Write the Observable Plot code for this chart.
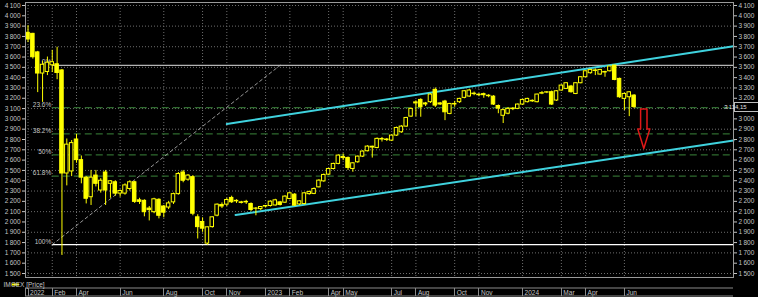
<!DOCTYPE html>
<html><head><meta charset="utf-8">
<script src="https://cdn.jsdelivr.net/npm/d3@7"></script>
<script src="https://cdn.jsdelivr.net/npm/@observablehq/plot@0.6"></script>
<style>html,body{margin:0;padding:0;background:#000;overflow:hidden}</style>
</head><body><div id="chart"></div>
<script>
// Weekly IMOEX candles, index = trading week (Jan 2022 .. Jun 2024)
const opens  = [3835,3825,3645,3440,3455,3520,3530,3470,2470,2490,2800,2600,2430,2240,2450,2305,2480,2370,2385,2275,2275,2320,2385,2210,2205,2130,2095,2215,2150,2140,2190,2270,2480,2410,2435,2045,2000,1790,1950,2061,2165,2168,2233,2200,2190,2195,2174,2128,2125,2150,2155,2160,2190,2187,2223,2265,2170,2174,2270,2272,2336,2394,2459,2514,2563,2620,2621,2514,2579,2634,2686,2730,2718,2800,2795,2789,2838,2870,2925,3022,3150,3184,3140,3162,3281,3140,3168,3048,3140,3162,3204,3217,3245,3230,3240,3225,3216,3125,3030,3050,3095,3097,3139,3162,3175,3162,3245,3255,3259,3178,3275,3291,3314,3242,3346,3404,3443,3465,3430,3455,3462,3517,3388,3194,3210,3226];
const highs  = [3905,3830,3655,3560,3600,3665,3695,3480,2805,2790,2850,2640,2440,2500,2500,2420,2500,2400,2400,2310,2370,2400,2395,2230,2215,2150,2230,2225,2160,2200,2280,2480,2500,2460,2450,2070,2040,1950,2050,2175,2185,2230,2250,2215,2200,2210,2185,2140,2150,2160,2205,2220,2200,2255,2285,2275,2205,2285,2300,2330,2410,2465,2520,2570,2650,2660,2630,2575,2640,2690,2740,2735,2815,2820,2810,2845,2920,2935,3015,3105,3175,3195,3160,3245,3300,3160,3180,3150,3170,3200,3275,3285,3260,3245,3250,3235,3225,3135,3095,3110,3110,3145,3190,3200,3185,3240,3265,3265,3270,3275,3330,3350,3325,3350,3410,3465,3480,3485,3480,3462,3510,3520,3395,3250,3265,3235];
const lows   = [3740,3580,3255,3160,3420,3450,3380,1675,2350,2440,2570,2370,2175,2160,2340,2280,2160,2230,2250,2240,2260,2300,2180,2170,2050,2010,2080,2030,2040,2120,2170,2260,2380,2395,2060,1835,1900,1775,1940,2050,2130,2150,2180,2180,2175,2170,2100,2060,2110,2135,2145,2155,2155,2180,2215,2150,2160,2165,2260,2265,2330,2385,2450,2505,2555,2595,2500,2482,2570,2625,2680,2620,2710,2775,2780,2780,2830,2860,2920,3015,3020,3016,3120,3150,3110,3130,2983,3040,3113,3150,3195,3210,3225,3215,3200,3205,3130,3050,2955,3040,3080,3090,3130,3155,3160,3155,3235,3245,3130,3170,3270,3285,3250,3235,3340,3400,3435,3420,3425,3404,3455,3370,3200,3081,3022,3100];
const closes = [3770,3598,3440,3525,3545,3550,3445,2470,2750,2765,2600,2430,2225,2430,2370,2400,2305,2395,2275,2300,2355,2385,2195,2195,2095,2115,2220,2060,2090,2180,2270,2465,2400,2450,2080,1950,1935,1948,2045,2168,2150,2213,2191,2205,2185,2190,2116,2130,2145,2155,2197,2210,2165,2246,2278,2158,2200,2278,2290,2320,2401,2456,2514,2563,2644,2630,2524,2569,2634,2683,2731,2722,2806,2805,2800,2838,2912,2925,3009,3097,3160,3113,3150,3236,3129,3150,3064,3145,3145,3194,3268,3275,3240,3235,3230,3220,3139,3100,3085,3097,3100,3139,3184,3194,3170,3236,3250,3258,3139,3268,3323,3346,3259,3346,3404,3462,3475,3470,3475,3450,3508,3378,3210,3242,3258,3114.15];

// Time axis (week index of first bar of labelled month)
const monthTickIndex = [0,5,10,19,28,36,41,49,54,62,65,75,80,88,93,102,110,115,123];
const monthTickLabel = ["2022","Feb","Apr","Jun","Aug","Oct","Nov","2023","Feb","Apr","May","Jul","Aug","Oct","Nov","2024","Mar","Apr","Jun"];

// Price axis
const priceTicks = d3.range(1500, 4101, 100);
const gridLevels = d3.range(1500, 4101, 200);

// Fibonacci retracement
const fibHigh = 3520, fibLow = 1780;
const fibRatios = [0, 0.236, 0.382, 0.5, 0.618, 1];
const fibLabels = ["0%", "23.6%", "38.2%", "50%", "61.8%", "100%"];
const fibStartIndex = 5;
const diagonalEnd = {k: 52, v: 3520};

// Trend channel
const upperChannel = [{k: 41, v: 2950}, {k: 145.5, v: 3705}];
const lowerChannel = [{k: 42.8, v: 2068}, {k: 145.5, v: 2790}];

// Arrow (down) annotation
const arrowSpec = {k: 127, top: 3097, neck: 2903, tip: 2712, shaftHalf: 0.66, headHalf: 1.25};

const lastPrice = 3114.15;
const seriesName = "IMOEX [Price]";

const xDomain = [-0.52, 145.5];
const yellow = "#ffff00";
const textCol = "#c4c4c4";

const fmtThousands = d => d3.format(",")(d).replace(/,/g, "\u2009");
const fmtPrice = d => d3.format(",.2f")(d).replace(/,/g, "\u2009").replace(".", ",");

const candles = opens.map((o, i) => ({i, o, h: highs[i], l: lows[i], c: closes[i], up: closes[i] >= o}));
const fibs = fibRatios.map((r, j) => ({v: fibHigh - r * (fibHigh - fibLow), label: fibLabels[j], r}));
const monthTicks = monthTickIndex.map((k, j) => ({k, label: monthTickLabel[j]}));
const rightTicks = priceTicks.filter(t => Math.abs(t - lastPrice) > 60);
const a = arrowSpec;
const arrowPts = [
  {k: a.k - a.shaftHalf, v: a.top}, {k: a.k - a.shaftHalf, v: a.neck}, {k: a.k - a.headHalf, v: a.neck},
  {k: a.k, v: a.tip}, {k: a.k + a.headHalf, v: a.neck}, {k: a.k + a.shaftHalf, v: a.neck},
  {k: a.k + a.shaftHalf, v: a.top}, {k: a.k - a.shaftHalf, v: a.top}
];

function bottomDecor(index, scales, values, dims) {
  const g = d3.create("svg:g");
  const left = dims.marginLeft, right = dims.width - dims.marginRight;
  const fb = dims.height - dims.marginBottom;
  const top = fb + 11, bot = fb + 19;
  g.append("line").attr("x1", left).attr("x2", right).attr("y1", top).attr("y2", top).attr("stroke", "#8a8a8a");
  g.append("line").attr("x1", left).attr("x2", right).attr("y1", bot).attr("y2", bot).attr("stroke", "#8a8a8a");
  g.append("line").attr("x1", left + 0.5).attr("x2", left + 0.5).attr("y1", top).attr("y2", bot).attr("stroke", "#8a8a8a");
  for (const t of monthTicks) {
    const x = Math.round(scales.x(t.k)) + 0.5;
    g.append("line").attr("x1", x).attr("x2", x).attr("y1", top).attr("y2", bot).attr("stroke", "#8a8a8a");
  }
  // legend
  const ly = fb + 7.5;
  g.append("line").attr("x1", 12).attr("x2", 19).attr("y1", ly).attr("y2", ly).attr("stroke", yellow).attr("stroke-width", 2);
  g.append("text").attr("x", left - 1).attr("y", ly).attr("dy", "0.35em").attr("fill", textCol).text(seriesName);
  // last price box
  const py = Math.round(scales.y(lastPrice));
  g.append("rect").attr("x", right + 1.5).attr("y", py - 4.5).attr("width", 24).attr("height", 9)
    .attr("fill", "#000").attr("stroke", "#bdbdbd");
  g.append("text").attr("x", right + 2.5).attr("y", py).attr("dy", "0.35em").attr("fill", "#e0e0e0")
    .attr("font-size", "6px").text(fmtPrice(lastPrice));
  return g.node();
}

const chart = Plot.plot({
  width: 758, height: 297,
  marginLeft: 25, marginRight: 25, marginTop: 2, marginBottom: 20,
  style: {background: "#000", color: textCol, fontFamily: "'Liberation Sans', Arial, sans-serif", fontSize: "6.5px"},
  x: {domain: xDomain, axis: null},
  y: {domain: [1500, 4100], range: [273, 5], axis: null},
  marks: [
    Plot.ruleY(gridLevels, {stroke: "#6e6e6e", strokeDasharray: "1,2"}),
    Plot.ruleX(monthTickIndex, {stroke: "#6e6e6e", strokeDasharray: "1,2"}),
    Plot.ruleY(fibs.filter(d => d.r > 0 && d.r < 1), {y: "v", x1: fibStartIndex, x2: xDomain[1], stroke: "#2f6b2f", strokeWidth: 1.3, strokeDasharray: "7,4"}),
    Plot.ruleY(fibs.filter(d => d.r === 0 || d.r === 1), {y: "v", x1: fibStartIndex, x2: xDomain[1], stroke: d => d.r === 0 ? "#b4b4b4" : "#ffffff", strokeWidth: 1.3}),
    Plot.text(fibs, {x: fibStartIndex, y: "v", text: "label", textAnchor: "end", dx: -1, dy: -3, fill: textCol}),
    Plot.line([{k: fibStartIndex, v: fibLow}, diagonalEnd], {x: "k", y: "v", stroke: "#bcbcbc", strokeWidth: 0.8, strokeDasharray: "3,3"}),
    Plot.line(upperChannel, {x: "k", y: "v", stroke: "#3fd2de", strokeWidth: 2}),
    Plot.line(lowerChannel, {x: "k", y: "v", stroke: "#3fd2de", strokeWidth: 2}),
    Plot.ruleX(candles, {x: "i", y1: "l", y2: "h", stroke: yellow, strokeWidth: 1}),
    Plot.rect(candles, {x1: d => d.i - 0.36, x2: d => d.i + 0.36, y1: "o", y2: "c", fill: d => d.up ? "#000" : yellow, stroke: yellow, strokeWidth: 1}),
    Plot.line(arrowPts, {x: "k", y: "v", stroke: "#e01818", strokeWidth: 1.5}),
    Plot.frame({stroke: "#9a9a9a"}),
    Plot.axisY(priceTicks, {anchor: "left", tickSize: 3, tickPadding: 2, tickFormat: fmtThousands, label: null, color: textCol}),
    Plot.axisY(rightTicks, {anchor: "right", tickSize: 3, tickPadding: 2, tickFormat: fmtThousands, label: null, color: textCol}),
    Plot.text(monthTicks, {x: "k", text: "label", frameAnchor: "bottom", dy: 15, dx: 2, textAnchor: "start", lineAnchor: "middle", fill: textCol}),
    bottomDecor
  ]
});
document.getElementById("chart").append(chart);
</script></body></html>
